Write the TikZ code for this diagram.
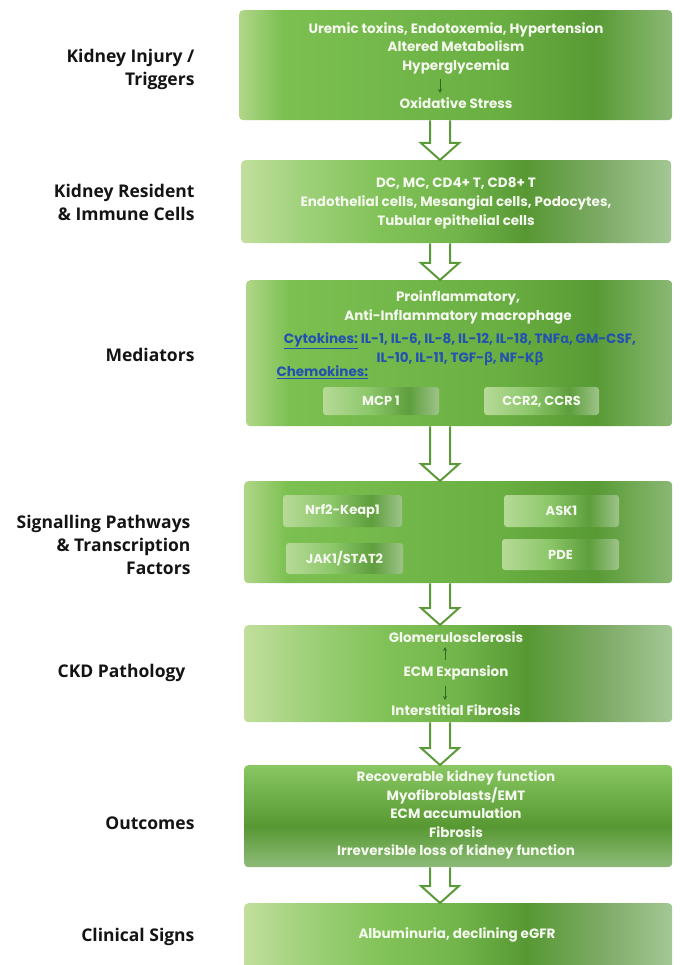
\documentclass[tikz,border=0pt]{standalone}
\usepackage{fontspec}
\setmainfont{Poppins}
\newfontfamily\labelfont{Open Sans}
\usetikzlibrary{arrows.meta, positioning, calc}

% Box colours
\definecolor{gLight}{HTML}{C2DF9D}
\definecolor{gSoft}{HTML}{A0D17B}
\definecolor{gMid}{HTML}{82C359}
\definecolor{gDeep}{HTML}{72B54B}
\definecolor{gDark}{HTML}{579833}
\definecolor{gFade}{HTML}{7EAB67}
\definecolor{gPale}{HTML}{A4C794}
\definecolor{dLight}{HTML}{B0D688}
\definecolor{dMid}{HTML}{7CC052}
\definecolor{dBody}{HTML}{6AAF42}
\definecolor{dDark}{HTML}{589A34}
\definecolor{dPale}{HTML}{8AB874}
\definecolor{gTop}{HTML}{88C762}
\definecolor{gBot}{HTML}{8EBB79}
\definecolor{sLight}{HTML}{B6DA97}
\definecolor{sMid}{HTML}{8CC76A}
\definecolor{sDark}{HTML}{5E9E3C}
\definecolor{sPale}{HTML}{9DC489}
\definecolor{arrowgreen}{HTML}{5B9A3A}
\definecolor{tipgreen}{HTML}{2F6A22}
\definecolor{cytoblue}{HTML}{2351B0}
\definecolor{textwhite}{HTML}{F4F8EE}

\pgfdeclarehorizontalshading{boxgreen}{100bp}{color(0bp)=(gLight); color(25bp)=(gLight);
  color(32bp)=(gSoft); color(41bp)=(gMid); color(50bp)=(gDeep); color(58bp)=(gDark);
  color(67bp)=(gFade); color(75bp)=(gPale); color(100bp)=(gPale)}
\pgfdeclarehorizontalshading{diaggreen}{100bp}{color(0bp)=(dLight); color(25bp)=(dLight);
  color(30bp)=(dMid); color(55bp)=(dBody); color(66bp)=(dDark); color(75bp)=(dPale);
  color(100bp)=(dPale)}
\pgfdeclareverticalshading{outgreen}{100bp}{color(0bp)=(gBot); color(25bp)=(gBot);
  color(45bp)=(gDark); color(75bp)=(gTop); color(100bp)=(gTop)}
\pgfdeclarehorizontalshading{subgreen}{100bp}{color(0bp)=(sLight); color(25bp)=(sLight);
  color(45bp)=(sMid); color(62bp)=(sDark); color(75bp)=(sPale); color(100bp)=(sPale)}

\newcommand{\grk}[1]{{\labelfont #1}}

\begin{document}
\begin{tikzpicture}[x=1pt, y=-1pt,
  mainbox/.style={rectangle, rounded corners=4pt, inner sep=0pt, anchor=north west},
  subbox/.style={rectangle, rounded corners=3pt, shading=subgreen, minimum height=28pt,
    text=textwhite, font=\fontsize{13}{15}\selectfont\bfseries},
  boxtext/.style={text=textwhite, align=center, font=\fontsize{13.5}{18.5}\selectfont\bfseries},
  lbl/.style={anchor=east, align=right, text=black!92,
    font=\labelfont\fontsize{17.5}{23}\selectfont\bfseries},
  hollow/.style={draw=arrowgreen, line width=2pt, fill=white, line join=miter},
  tip/.style={draw=tipgreen, line width=1pt, -{Stealth[length=4pt, width=4pt]},
    shorten <=2pt, shorten >=1pt}]
  \useasboundingbox (0,0) rectangle (680,965);

  % Axes of the arrows
  \coordinate (ax) at (440,0);
  \coordinate (bx) at (445,0);

  % Stage boxes
  \foreach \n/\x/\y/\w/\h/\sh in {trig/239/10/433/110/diaggreen,
      cells/241/160/430/83/boxgreen, med/246/280/426/146/diaggreen,
      sig/244/481/428/102/diaggreen, ckd/244/625/428/97/boxgreen,
      out/244/765/428/102/outgreen, clin/244/903/428/72/boxgreen} {
    \node[mainbox, shading=\sh, minimum width=\w pt, minimum height=\h pt] (\n) at (\x,\y) {};
  }

  % Hollow arrows between stages
  \foreach \a/\b in {trig/cells, cells/med, med/sig, sig/ckd, ckd/out, out/clin} {
    \draw[hollow] let \p1=(ax |- \a.south), \p2=(ax |- \b.north) in
      (\x1-10pt,\y1) -- (\x1-10pt,\y2+17pt) -- (\x1-19pt,\y2+17pt) -- (\x2,\y2)
      -- (\x1+19pt,\y2+17pt) -- (\x1+10pt,\y2+17pt) -- (\x1+10pt,\y1);
  }

  % Triggers
  \node[boxtext] (trigA) at (456,48)
    {Uremic toxins, Endotoxemia, Hypertension\\Altered Metabolism\\Hyperglycemia};
  \node[boxtext] (trigB) at (456,103) {Oxidative Stress};
  \draw[tip] (trigA.south -| ax) -- (trigB.north -| ax);

  % Cells
  \node[boxtext, font=\fontsize{13.5}{19}\selectfont\bfseries] (cellsT) at (456,203)
    {DC, MC, CD4+ T, CD8+ T\\Endothelial cells, Mesangial cells, Podocytes,\\Tubular epithelial cells};

  % Mediators
  \node[boxtext, font=\fontsize{13.5}{19}\selectfont\bfseries] (medA) at (458,307.5)
    {Proinflammatory,\\Anti-Inflammatory macrophage};
  \node[boxtext, text=cytoblue] (medB) at (460,349)
    {\underline{Cytokines:} IL-1, IL-6, IL-8, IL-12, IL-18, TNF\grk{α}, GM-CSF,\\IL-10, IL-11, TGF-\grk{β}, NF-K\grk{β}};
  \node[boxtext, text=cytoblue, anchor=west] (medC) at (273,372) {\underline{Chemokines:}};
  \node[subbox, minimum width=116pt] (mcp) at (381,401) {MCP 1};
  \node[subbox, minimum width=115pt] (ccr) at (541.5,401) {CCR2, CCRS};

  % Signalling
  \node[subbox, minimum width=119pt, minimum height=32pt] (nrf) at (342.5,511) {Nrf2-Keap1};
  \node[subbox, minimum width=115pt, minimum height=32pt] (ask) at (561.5,511) {ASK1};
  \node[subbox, minimum width=117pt, minimum height=31pt] (jak) at (344.5,558.5) {JAK1/STAT2};
  \node[subbox, minimum width=117pt, minimum height=31pt] (pde) at (560.5,554.5) {PDE};

  % Pathology
  \node[boxtext] (glom) at (456,637) {Glomerulosclerosis};
  \node[boxtext] (ecm) at (456,673) {ECM Expansion};
  \node[boxtext] (inter) at (456,710) {Interstitial Fibrosis};
  \draw[tip] (ecm.north -| bx) -- (glom.south -| bx);
  \draw[tip] (ecm.south -| bx) -- (inter.north -| bx);

  % Outcomes
  \node[boxtext] (outT) at (456,815)
    {Recoverable kidney function\\Myofibroblasts/EMT\\ECM accumulation\\Fibrosis\\Irreversible loss of kidney function};

  % Clinical signs
  \node[boxtext] (clinT) at (457,935) {Albuminuria, declining eGFR};

  % Stage labels
  \node[lbl] (lTrig) at (198,69) {Kidney Injury /\\Triggers};
  \node[lbl] (lCells) at (198,202) {Kidney Resident\\\& Immune Cells};
  \node[lbl] (lMed) at (198,355) {Mediators};
  \node[lbl] (lSig) at (194,545) {Signalling Pathways\\\& Transcription\\Factors};
  \node[lbl] (lCkd) at (189,673) {CKD Pathology};
  \node[lbl] (lOut) at (198,823) {Outcomes};
  \node[lbl] (lClin) at (198,937) {Clinical Signs};
\end{tikzpicture}
\end{document}
